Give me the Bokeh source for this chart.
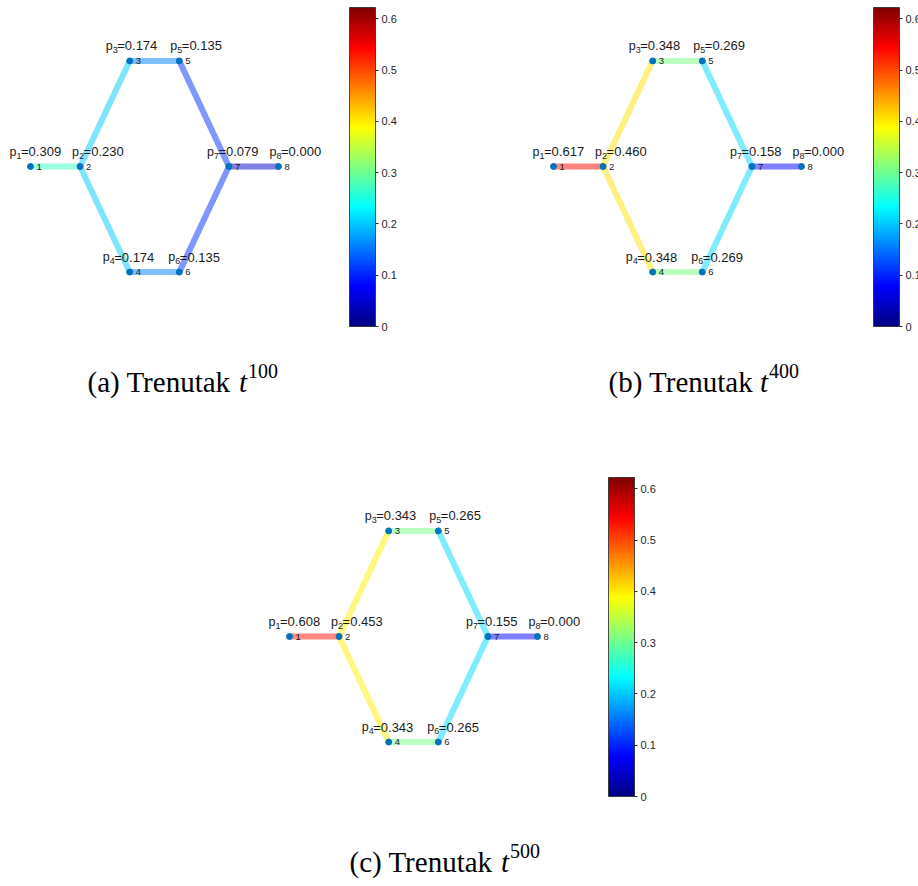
import numpy as np
from bokeh.plotting import figure
from bokeh.models import Range1d, ColumnDataSource, LinearColorMapper, ColorBar, FixedTicker
from bokeh.transform import linear_cmap
from bokeh.core.properties import value
from bokeh.embed import file_html
from bokeh.resources import INLINE

# ---------------- data ----------------
node_ids = ["1", "2", "3", "4", "5", "6", "7", "8"]
node_x = [0, 1, 2, 2, 3, 3, 4, 5]
node_y = [0, 0, 1, -1, 1, -1, 0, 0]
edge_from = [1, 2, 2, 3, 4, 5, 6, 7]
edge_to = [2, 3, 4, 5, 6, 7, 7, 8]

p_t100 = [0.309, 0.230, 0.174, 0.174, 0.135, 0.135, 0.079, 0.000]
p_t400 = [0.617, 0.460, 0.348, 0.348, 0.269, 0.269, 0.158, 0.000]
p_t500 = [0.608, 0.453, 0.343, 0.343, 0.265, 0.265, 0.155, 0.000]

panel_tags = ["(a)", "(b)", "(c)"]
panel_times = ["100", "400", "500"]
caption_word = "Trenutak"

cb_ticks = [0, 0.1, 0.2, 0.3, 0.4, 0.5, 0.6]
cb_labels = ["0", "0.1", "0.2", "0.3", "0.4", "0.5", "0.6"]
P_LOW, P_HIGH = 0.0, 0.622

# ---------------- style / layout ----------------
W, H = 918, 886
SX, SY = 49.6, 105.6
panel_origin = [(30, 166), (553, 166), (289, 636)]
colorbar_pos = [(349, 7), (873, 7), (608, 477)]
caption_pos = [(87, 381), (608, 381), (349, 861)]
label_dx = [-21, -8, -24, -27, -9, -11, -22, -9]
SANS = "Liberation Sans"
SERIF = "Liberation Serif"
TXT = "#1a1a1a"


def jet(n):
    x = np.linspace(0, 1, n)
    r = np.clip(1.5 - np.abs(4 * x - 3), 0, 1)
    g = np.clip(1.5 - np.abs(4 * x - 2), 0, 1)
    b = np.clip(1.5 - np.abs(4 * x - 1), 0, 1)
    return ["#%02x%02x%02x" % (int(round(rr * 255)), int(round(gg * 255)), int(round(bb * 255)))
            for rr, gg, bb in zip(r, g, b)]


JET = jet(256)

p = figure(width=W, height=H, output_backend="svg", toolbar_location=None,
           x_range=Range1d(0, W), y_range=Range1d(0, H),
           x_axis_type=None, y_axis_type=None, min_border=0)
p.grid.visible = False
p.outline_line_color = None
p.background_fill_color = "white"
p.border_fill_color = "white"

for k, pr in enumerate([p_t100, p_t400, p_t500]):
    key = "panel%d" % k
    ox, oy = panel_origin[k]
    Y0 = H - oy
    p.extra_x_ranges[key] = Range1d(-ox / SX, (W - ox) / SX)
    p.extra_y_ranges[key] = Range1d(-Y0 / SY, (H - Y0) / SY)

    esrc = ColumnDataSource(dict(
        x0=[node_x[i - 1] for i in edge_from], y0=[node_y[i - 1] for i in edge_from],
        x1=[node_x[j - 1] for j in edge_to], y1=[node_y[j - 1] for j in edge_to],
        pm=[(pr[i - 1] + pr[j - 1]) / 2 for i, j in zip(edge_from, edge_to)]))
    p.segment("x0", "y0", "x1", "y1", source=esrc,
              line_color=linear_cmap("pm", JET, P_LOW, P_HIGH),
              line_alpha=0.5, line_width=6, line_cap="butt",
              x_range_name=key, y_range_name=key)

    nsrc = ColumnDataSource(dict(
        x=node_x, y=node_y, id=node_ids,
        val=["=%.3f" % v for v in pr],
        dx=label_dx,
        dxs=[d + 7.0 for d in label_dx],
        dxv=[d + 11.5 for d in label_dx]))
    p.scatter("x", "y", source=nsrc, size=6, color="#0072BD",
              x_range_name=key, y_range_name=key)
    p.text("x", "y", text="id", source=nsrc, x_offset=6, y_offset=0,
           text_font=value(SANS), text_font_size="9.5px", text_color=TXT,
           text_baseline="middle", text_align="left",
           x_range_name=key, y_range_name=key)
    p.text("x", "y", text=value("p"), source=nsrc, x_offset="dx", y_offset=-15,
           text_font=value(SANS), text_font_size="12.5px", text_color=TXT,
           text_baseline="alphabetic", text_align="left",
           x_range_name=key, y_range_name=key)
    p.text("x", "y", text="id", source=nsrc, x_offset="dxs", y_offset=-11,
           text_font=value(SANS), text_font_size="9px", text_color=TXT,
           text_baseline="alphabetic", text_align="left",
           x_range_name=key, y_range_name=key)
    p.text("x", "y", text="val", source=nsrc, x_offset="dxv", y_offset=-15,
           text_font=value(SANS), text_font_size="13px", text_color=TXT,
           text_baseline="alphabetic", text_align="left",
           x_range_name=key, y_range_name=key)

    # colorbar
    cx, cy = colorbar_pos[k]
    mapper = LinearColorMapper(palette=JET, low=P_LOW, high=P_HIGH)
    cb = ColorBar(color_mapper=mapper, location=(cx, H - cy - 319), width=26, height=319,
                  padding=0, margin=0,
                  ticker=FixedTicker(ticks=cb_ticks),
                  major_label_overrides={t: l for t, l in zip(cb_ticks, cb_labels)},
                  major_label_text_font=SANS, major_label_text_font_size="11px",
                  major_label_text_color="#262626",
                  major_tick_out=3, major_tick_in=0, major_tick_line_color="#262626",
                  minor_tick_out=0, minor_tick_in=0,
                  label_standoff=3,
                  bar_line_color="#262626", bar_line_width=0.8,
                  border_line_color=None, background_fill_alpha=0)
    p.add_layout(cb)

    # caption
    cx0, cyb = caption_pos[k]
    yb = H - cyb
    p.text(x=[cx0], y=[yb], text=[panel_tags[k] + " " + caption_word],
           text_font=value(SERIF), text_font_size="29px", text_color="black",
           text_baseline="alphabetic", text_align="left")
    p.text(x=[cx0 + 151.4], y=[yb], text=["t"],
           text_font=value(SERIF), text_font_size="29px", text_font_style="italic",
           text_color="black", text_baseline="alphabetic", text_align="left")
    p.text(x=[cx0 + 160.5], y=[yb + 11], text=[panel_times[k]],
           text_font=value(SERIF), text_font_size="20px", text_color="black",
           text_baseline="alphabetic", text_align="left")

open("out.html", "w").write(file_html(p, INLINE))
